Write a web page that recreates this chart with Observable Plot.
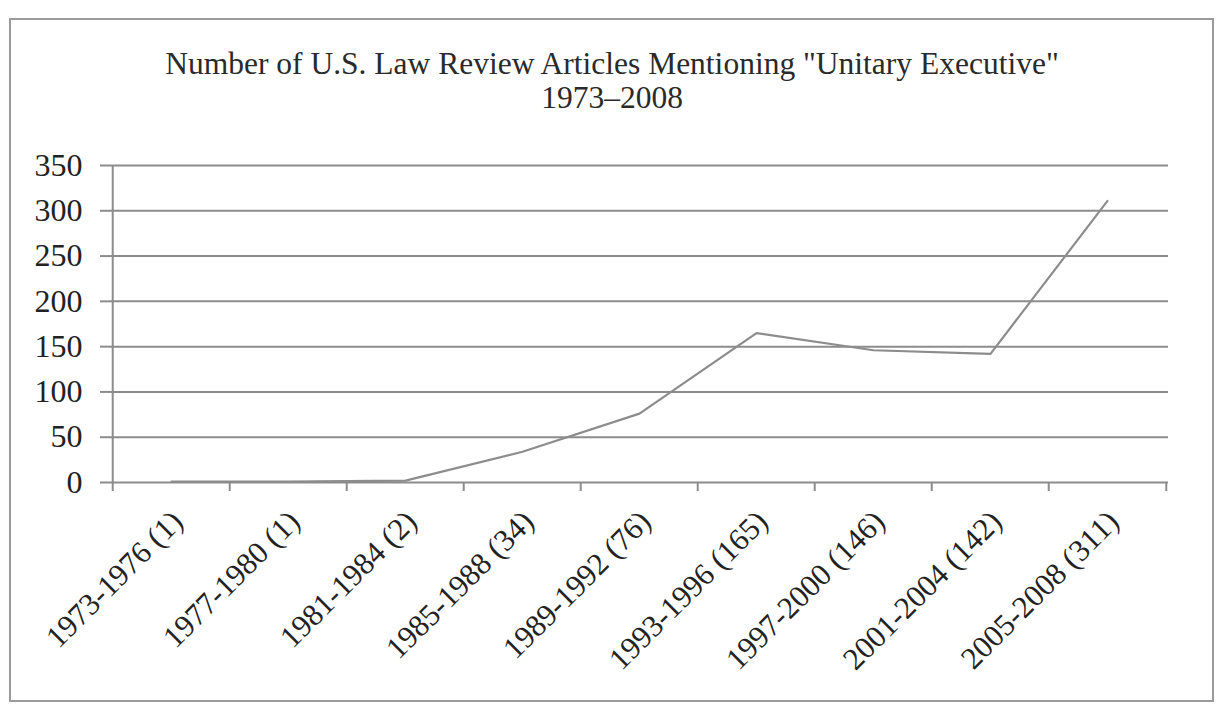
<!DOCTYPE html>
<html>
<head>
<meta charset="utf-8">
<script src="https://cdn.jsdelivr.net/npm/d3@7"></script>
<script src="https://cdn.jsdelivr.net/npm/@observablehq/plot@0.6"></script>
<style>
  html, body { margin: 0; padding: 0; background: #fff; }
  #wrap { position: relative; width: 1224px; height: 720px; overflow: hidden; font-family: "Liberation Serif", "Times New Roman", serif; }
  #frame { position: absolute; left: 9px; top: 18px; width: 1201px; height: 680px; border: 2px solid #9a9a9a; pointer-events: none; }
  #title { position: absolute; left: 0; width: 1224px; top: 47px; text-align: center; font-size: 31.5px; line-height: 34px; color: #2a2a2a; }
  #chart { position: absolute; left: 0; top: 140px; }
</style>
</head>
<body>
<div id="wrap">
  <div id="frame"></div>
  <div id="title">Number of U.S. Law Review Articles Mentioning "Unitary Executive"<br>1973–2008</div>
  <div id="chart"></div>
</div>
<script>
const periods = ["1973-1976", "1977-1980", "1981-1984", "1985-1988", "1989-1992", "1993-1996", "1997-2000", "2001-2004", "2005-2008"];
const counts = [1, 1, 2, 34, 76, 165, 146, 142, 311];
const yTicks = [0, 50, 100, 150, 200, 250, 300, 350];

const tickLabels = periods.map((p, i) => `${p} (${counts[i]})`);
const rows = tickLabels.map((l, i) => ({label: l, count: counts[i]}));

const W = 1224, H = 560, mL = 110, mR = 56, mT = 25, mB = 218;
const step = (W - mL - mR) / periods.length;
const gray = "#8c8c8c";

const chart = Plot.plot({
  width: W, height: H,
  marginLeft: mL, marginRight: mR, marginTop: mT, marginBottom: mB,
  style: {fontFamily: '"Liberation Serif", "Times New Roman", serif', background: "transparent", color: "#222"},
  x: {type: "point", domain: tickLabels, padding: 0.5, align: 0.5},
  y: {domain: [0, 350]},
  marks: [
    Plot.ruleY(yTicks, {stroke: gray, strokeWidth: 2}),
    Plot.ruleX([tickLabels[0]], {stroke: gray, strokeWidth: 2, dx: -step / 2}),
    Plot.ruleX(tickLabels, {y1: 0, y2: 0, insetBottom: -9, stroke: gray, strokeWidth: 2, dx: -step / 2}),
    Plot.ruleX([tickLabels[tickLabels.length - 1]], {y1: 0, y2: 0, insetBottom: -9, stroke: gray, strokeWidth: 2, dx: step / 2}),
    Plot.axisY({ticks: yTicks, tickSize: 10, tickPadding: 18, fontSize: 32, stroke: gray, strokeWidth: 2, fill: "#222", label: null}),
    Plot.axisX({tickSize: 0, tickRotate: -45, tickPadding: 34, dx: 6, fontSize: 31, fill: "#222", label: null}),
    Plot.line(rows, {x: "label", y: "count", stroke: gray, strokeWidth: 2.2})
  ]
});
document.getElementById("chart").appendChild(chart);
</script>
</body>
</html>
